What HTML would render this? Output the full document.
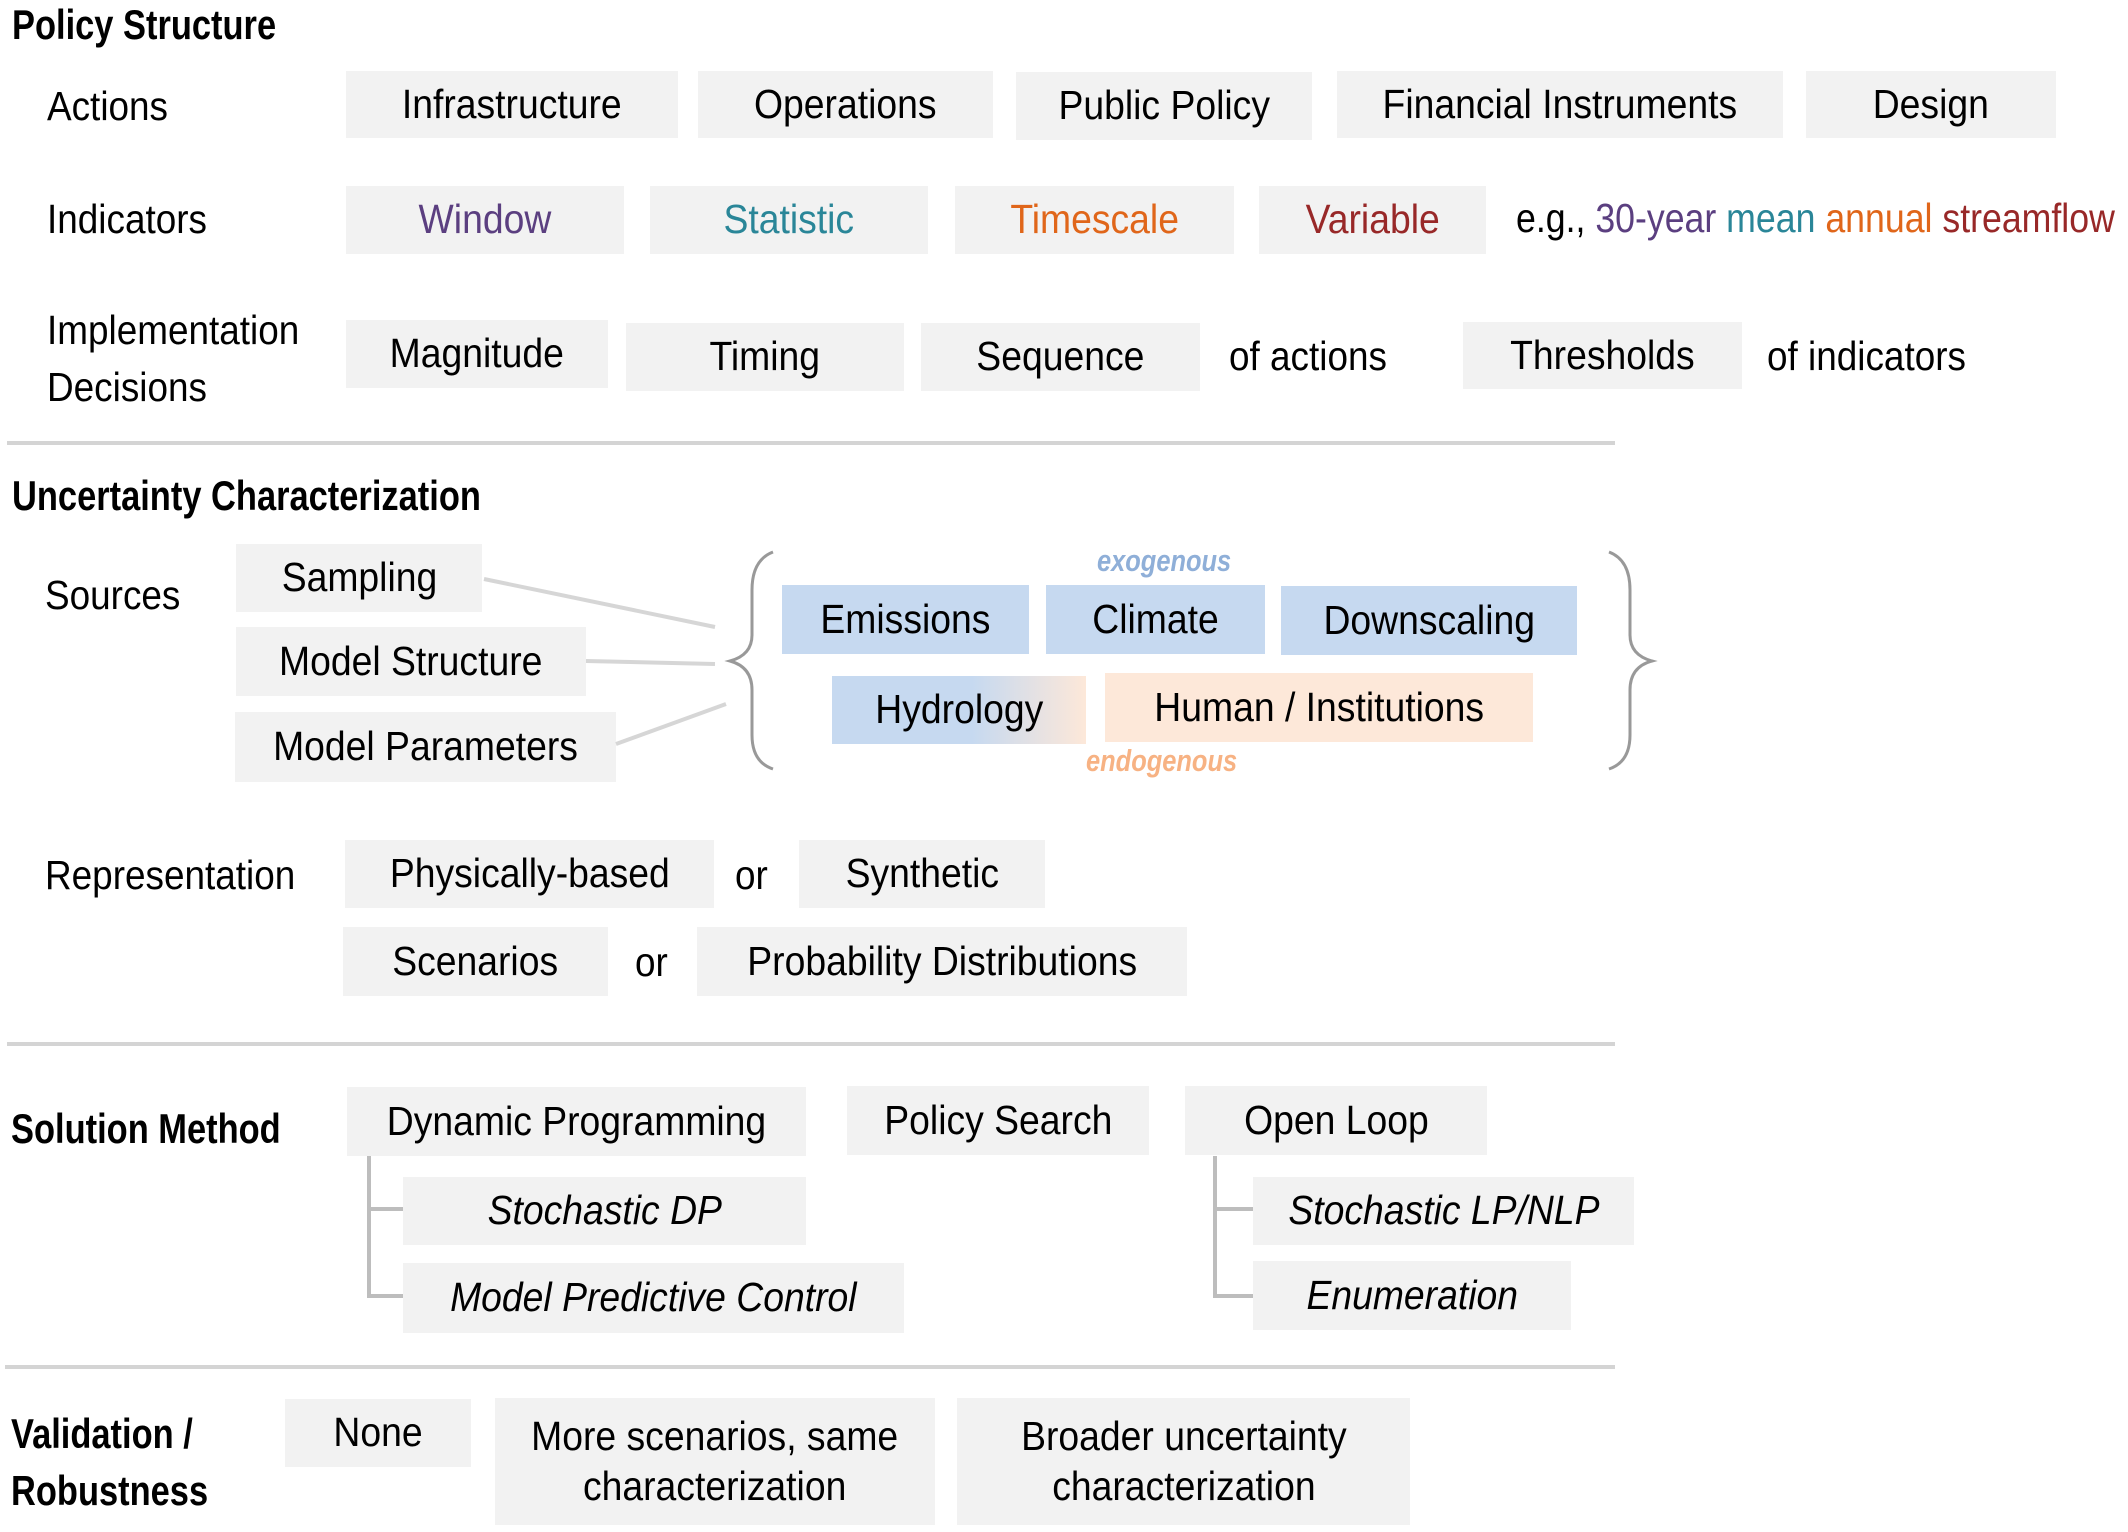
<!DOCTYPE html>
<html><head><meta charset="utf-8">
<style>
html,body{margin:0;padding:0;background:#fff;}
#c{position:relative;width:2128px;height:1532px;overflow:hidden;font-family:"Liberation Sans Narrow","Liberation Sans",sans-serif;color:#000;}
.b{position:absolute;background:#f2f2f2;display:flex;align-items:center;justify-content:center;font-size:41px;white-space:nowrap;line-height:1.2;text-align:center;}
.b>span{display:inline-block;transform:scaleX(0.91);transform-origin:center;}
.t{position:absolute;font-size:41px;white-space:nowrap;line-height:1;transform:scaleX(0.9);transform-origin:left top;}
.h{position:absolute;font-size:42px;font-weight:bold;white-space:nowrap;line-height:1;transform:scaleX(0.82);transform-origin:left top;}
.bl{background:#c6d9f0;}
.pe{background:#fde8d9;}
.i{font-style:italic;}
.hr{position:absolute;height:4px;background:#d4d4d4;}
</style></head><body><div id="c">

<div class="h" style="left:12px;top:4px;">Policy Structure</div>
<div class="t" style="left:47px;top:86px;">Actions</div>
<div class="b" style="left:346px;top:71px;width:332px;height:67px;"><span>Infrastructure</span></div>
<div class="b" style="left:698px;top:71px;width:295px;height:67px;"><span>Operations</span></div>
<div class="b" style="left:1016px;top:72px;width:296px;height:68px;"><span>Public Policy</span></div>
<div class="b" style="left:1337px;top:71px;width:446px;height:67px;"><span>Financial Instruments</span></div>
<div class="b" style="left:1806px;top:71px;width:250px;height:67px;"><span>Design</span></div>

<div class="t" style="left:47px;top:199px;">Indicators</div>
<div class="b" style="left:346px;top:186px;width:278px;height:68px;color:#5b3f80;"><span>Window</span></div>
<div class="b" style="left:650px;top:186px;width:278px;height:68px;color:#2a8698;"><span>Statistic</span></div>
<div class="b" style="left:955px;top:186px;width:279px;height:68px;color:#e0661a;"><span>Timescale</span></div>
<div class="b" style="left:1259px;top:186px;width:227px;height:68px;color:#982828;"><span>Variable</span></div>
<div class="t" style="left:1516px;top:198px;transform:scaleX(0.87);">e.g., <span style="color:#5b3f80">30-year</span> <span style="color:#2a8698">mean</span> <span style="color:#e0661a">annual</span> <span style="color:#982828">streamflow</span></div>

<div class="t" style="left:47px;top:310px;">Implementation</div>
<div class="t" style="left:47px;top:367px;">Decisions</div>
<div class="b" style="left:346px;top:320px;width:262px;height:68px;"><span>Magnitude</span></div>
<div class="b" style="left:626px;top:323px;width:278px;height:68px;"><span>Timing</span></div>
<div class="b" style="left:921px;top:323px;width:279px;height:68px;"><span>Sequence</span></div>
<div class="t" style="left:1229px;top:336px;">of actions</div>
<div class="b" style="left:1463px;top:322px;width:279px;height:67px;"><span>Thresholds</span></div>
<div class="t" style="left:1767px;top:336px;">of indicators</div>

<div class="hr" style="left:7px;top:441px;width:1608px;"></div>

<div class="h" style="left:12px;top:475px;">Uncertainty Characterization</div>
<div class="t" style="left:45px;top:575px;">Sources</div>
<div class="b" style="left:236px;top:544px;width:246px;height:68px;"><span>Sampling</span></div>
<div class="b" style="left:236px;top:627px;width:350px;height:69px;"><span>Model Structure</span></div>
<div class="b" style="left:235px;top:712px;width:381px;height:70px;"><span>Model Parameters</span></div>

<svg style="position:absolute;left:0;top:0;" width="2128" height="1532">
<g stroke="#d6d6d6" stroke-width="4" fill="none">
<line x1="484" y1="579" x2="715" y2="627"/>
<line x1="586" y1="661" x2="715" y2="664"/>
<line x1="616" y1="744" x2="726" y2="704"/>
</g>
<g stroke="#999" stroke-width="3" fill="none">
<path d="M773 552 Q752 560 752 590 L752 635 Q752 655 730 661 Q752 667 752 690 L752 735 Q752 762 773 769"/>
<path d="M1609 552 Q1630 560 1630 590 L1630 635 Q1630 655 1652 661 Q1630 667 1630 690 L1630 735 Q1630 762 1609 769"/>
</g>
<g stroke="#bdbdbd" stroke-width="4" fill="none">
<path d="M369 1156 L369 1296 L403 1296 M369 1209 L403 1209"/>
<path d="M1215 1156 L1215 1296 L1253 1296 M1215 1209 L1253 1209"/>
</g>
</svg>

<div class="t i" style="left:1097px;top:545px;font-size:31px;font-weight:bold;color:#8fafd8;transform:scaleX(0.82);">exogenous</div>
<div class="b bl" style="left:782px;top:585px;width:247px;height:69px;"><span>Emissions</span></div>
<div class="b bl" style="left:1046px;top:585px;width:219px;height:69px;"><span>Climate</span></div>
<div class="b bl" style="left:1281px;top:586px;width:296px;height:69px;"><span>Downscaling</span></div>
<div class="b" style="left:832px;top:676px;width:254px;height:68px;background:linear-gradient(to right,#c6d9f0 0%,#c6d9f0 55%,#fde8d9 100%);"><span>Hydrology</span></div>
<div class="b pe" style="left:1105px;top:673px;width:428px;height:69px;"><span>Human / Institutions</span></div>
<div class="t i" style="left:1086px;top:745px;font-size:31px;font-weight:bold;color:#f7b283;transform:scaleX(0.82);">endogenous</div>

<div class="t" style="left:45px;top:855px;">Representation</div>
<div class="b" style="left:345px;top:840px;width:369px;height:68px;"><span>Physically-based</span></div>
<div class="t" style="left:735px;top:855px;">or</div>
<div class="b" style="left:799px;top:840px;width:246px;height:68px;"><span>Synthetic</span></div>
<div class="b" style="left:343px;top:927px;width:265px;height:69px;"><span>Scenarios</span></div>
<div class="t" style="left:635px;top:942px;">or</div>
<div class="b" style="left:697px;top:927px;width:490px;height:69px;"><span>Probability Distributions</span></div>

<div class="hr" style="left:7px;top:1042px;width:1608px;"></div>

<div class="h" style="left:11px;top:1108px;">Solution Method</div>
<div class="b" style="left:347px;top:1087px;width:459px;height:69px;"><span>Dynamic Programming</span></div>
<div class="b" style="left:847px;top:1086px;width:302px;height:69px;"><span>Policy Search</span></div>
<div class="b" style="left:1185px;top:1086px;width:302px;height:69px;"><span>Open Loop</span></div>
<div class="b i" style="left:403px;top:1177px;width:403px;height:68px;"><span>Stochastic DP</span></div>
<div class="b i" style="left:403px;top:1263px;width:501px;height:70px;"><span>Model Predictive Control</span></div>
<div class="b i" style="left:1253px;top:1177px;width:381px;height:68px;"><span>Stochastic LP/NLP</span></div>
<div class="b i" style="left:1253px;top:1261px;width:318px;height:69px;"><span>Enumeration</span></div>

<div class="hr" style="left:5px;top:1365px;width:1610px;"></div>

<div class="h" style="left:11px;top:1413px;">Validation /</div>
<div class="h" style="left:11px;top:1470px;">Robustness</div>
<div class="b" style="left:285px;top:1399px;width:186px;height:68px;"><span>None</span></div>
<div class="b" style="left:495px;top:1398px;width:440px;height:127px;"><span>More scenarios, same<br>characterization</span></div>
<div class="b" style="left:957px;top:1398px;width:453px;height:127px;"><span>Broader uncertainty<br>characterization</span></div>

</div></body></html>
